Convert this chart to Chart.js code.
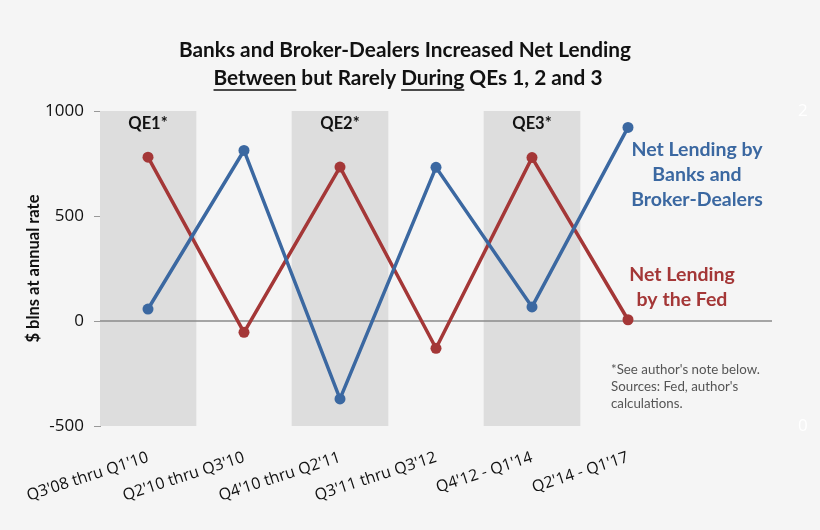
<!DOCTYPE html>
<html>
<head>
<meta charset="utf-8">
<script src="https://cdn.jsdelivr.net/npm/chart.js@4"></script>
<style>
  html, body { margin: 0; padding: 0; background: #f5f5f5; }
  #wrap { width: 820px; height: 530px; }
</style>
</head>
<body>
<div id="wrap"><canvas id="c" width="820" height="530"></canvas></div>
<script>
// ---- data ----
const categories = ["Q3'08 thru Q1'10", "Q2'10 thru Q3'10", "Q4'10 thru Q2'11", "Q3'11 thru Q3'12", "Q4'12 - Q1'14", "Q2'14 - Q1'17", ""];
const banksBrokerDealers = [57, 812, -371, 732, 67, 922, null];
const fedLending = [780, -54, 733, -130, 778, 6, null];
const qePeriods = [[-500, 1000], null, [-500, 1000], null, [-500, 1000], null, null];
const qeLabels = ["QE1*", null, "QE2*", null, "QE3*", null, null];
const yTicks = [-500, 0, 500, 1000];
const titleLine1 = "Banks and Broker-Dealers Increased Net Lending";
const titleLine2 = [["Between", true], [" but Rarely ", false], ["During", true], [" QEs 1, 2 and 3", false]];
const banksLabel = ["Net Lending by", "Banks and", "Broker-Dealers"];
const fedLabel = ["Net Lending", "by the Fed"];
const noteLines = ["*See author's note below.", "Sources: Fed, author's", "calculations."];

const BLUE = '#3b68a1';
const RED = '#a43737';

const decorPlugin = {
  id: 'decor',
  afterDatasetDraw(chart, args) {
    if (args.index !== 0) return;
    const ctx = chart.ctx, y = chart.scales.y, a = chart.chartArea, x = chart.scales.x;
    const y0 = y.getPixelForValue(0);
    ctx.save();
    ctx.strokeStyle = '#8a8a8a';
    ctx.lineWidth = 1.3;
    ctx.beginPath();
    ctx.moveTo(a.left, y0);
    ctx.lineTo(a.right, y0);
    ctx.stroke();
    // QE labels
    ctx.fillStyle = '#111';
    ctx.font = 'bold 16.5px Lato';
    ctx.textAlign = 'center';
    ctx.textBaseline = 'middle';
    qeLabels.forEach((t, i) => {
      if (t) ctx.fillText(t, x.getPixelForValue(i), a.top + 13);
    });
    ctx.restore();
  },
  afterDraw(chart) {
    const ctx = chart.ctx;
    ctx.save();
    // title
    ctx.fillStyle = '#111';
    ctx.font = 'bold 20.8px Lato';
    ctx.textBaseline = 'alphabetic';
    ctx.textAlign = 'center';
    ctx.fillText(titleLine1, 405, 57);
    let total = 0;
    titleLine2.forEach(p => total += ctx.measureText(p[0]).width);
    let xx = 408 - total / 2;
    ctx.textAlign = 'left';
    ctx.strokeStyle = '#111';
    ctx.lineWidth = 1.6;
    titleLine2.forEach(p => {
      const w = ctx.measureText(p[0]).width;
      ctx.fillText(p[0], xx, 85);
      if (p[1]) {
        ctx.beginPath();
        ctx.moveTo(xx, 90);
        ctx.lineTo(xx + w, 90);
        ctx.stroke();
      }
      xx += w;
    });
    // series labels
    ctx.textAlign = 'center';
    ctx.textBaseline = 'middle';
    ctx.font = 'bold 19.5px Lato';
    ctx.fillStyle = BLUE;
    banksLabel.forEach((t, i) => ctx.fillText(t, 697, 150 + i * 25));
    ctx.fillStyle = RED;
    fedLabel.forEach((t, i) => ctx.fillText(t, 682, 275 + i * 25));
    // note
    ctx.textAlign = 'left';
    ctx.font = '13.3px Lato';
    ctx.fillStyle = '#555';
    noteLines.forEach((t, i) => ctx.fillText(t, 611, 370 + i * 17));
    ctx.restore();
  }
};

new Chart(document.getElementById('c'), {
  data: {
    labels: categories,
    datasets: [
      {
        type: 'bar', data: qePeriods, backgroundColor: '#dddddd', borderWidth: 0,
        barPercentage: 1, categoryPercentage: 1, order: 3, grouped: false
      },
      {
        type: 'line', label: 'Net Lending by Banks and Broker-Dealers', data: banksBrokerDealers,
        borderColor: BLUE, backgroundColor: BLUE, borderWidth: 3.5, pointRadius: 5.5,
        pointBorderWidth: 0, tension: 0, order: 1
      },
      {
        type: 'line', label: 'Net Lending by the Fed', data: fedLending,
        borderColor: RED, backgroundColor: RED, borderWidth: 3.5, pointRadius: 5.5,
        pointBorderWidth: 0, tension: 0, order: 2
      }
    ]
  },
  options: {
    responsive: false,
    animation: false,
    layout: { padding: { top: 111, left: 0, right: 0, bottom: 0 } },
    plugins: { legend: { display: false }, tooltip: { enabled: false }, title: { display: false } },
    scales: {
      x: {
        offset: true,
        grid: { display: false },
        border: { display: false },
        ticks: {
          color: '#111', font: { family: 'Open Sans', size: 16 },
          minRotation: 18, maxRotation: 18, padding: 14, autoSkip: false
        },
        afterFit(s) { s.height = 104; }
      },
      y: {
        position: 'left', min: -500, max: 1000,
        afterBuildTicks(s) { s.ticks = yTicks.map(v => ({ value: v })); },
        grid: { drawOnChartArea: false, tickLength: 6, color: '#999' },
        border: { display: true, color: '#999', width: 1 },
        ticks: { color: '#111', font: { family: 'Open Sans', size: 17 }, padding: 10, callback: v => String(v) },
        title: {
          display: true, text: '$ blns at annual rate', color: '#111',
          font: { family: 'Lato', size: 16.5, weight: 'bold' }, padding: { top: 24 }
        },
        afterFit(s) { s.width = 100; }
      },
      y2: {
        position: 'right', min: 0, max: 2,
        afterBuildTicks(s) { s.ticks = [{ value: 0 }, { value: 2 }]; },
        grid: { display: false },
        border: { display: false },
        ticks: { color: '#ffffff', font: { family: 'Open Sans', size: 17 }, padding: 18 },
        afterFit(s) { s.width = 48; }
      }
    }
  },
  plugins: [decorPlugin]
});
</script>
</body>
</html>
